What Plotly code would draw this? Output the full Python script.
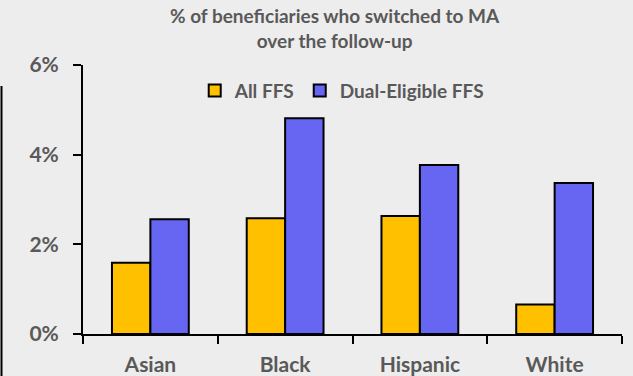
import plotly.graph_objects as go

categories = ["Asian", "Black", "Hispanic", "White"]
all_ffs = [1.59, 2.58, 2.63, 0.66]
dual_ffs = [2.56, 4.81, 3.77, 3.37]
y_ticks = [0, 2, 4, 6]
y_tick_labels = ["0%", "2%", "4%", "6%"]

TXT = "#595959"
FONT = "Lato"
W, H = 633, 376
L, R, T, B = 83, 11, 65, 42

fig = go.Figure()
fig.add_trace(go.Bar(x=categories, y=all_ffs, name="All FFS",
                     marker=dict(color="#FFC000", line=dict(color="black", width=2))))
fig.add_trace(go.Bar(x=categories, y=dual_ffs, name="Dual-Eligible FFS",
                     marker=dict(color="#6666F2", line=dict(color="black", width=2))))

fig.update_layout(
    width=W, height=H,
    margin=dict(l=L, r=R, t=T, b=B, pad=0),
    paper_bgcolor="#EDEDED", plot_bgcolor="#EDEDED",
    barmode="group", bargap=0.43, bargroupgap=0,
    font=dict(family=FONT, color=TXT, size=21),
    showlegend=True,
    legend=dict(orientation="h", x=0.48, xanchor="center", y=0.905, yanchor="middle",
                font=dict(family=FONT, size=19, color=TXT, weight="bold"),
                bgcolor="rgba(0,0,0,0)", itemwidth=30, traceorder="normal"),
    xaxis=dict(type="category", tickson="boundaries", ticks="outside", ticklen=8,
               tickwidth=2, tickcolor="black", showline=True, linecolor="black",
               linewidth=2, showgrid=False, zeroline=False, ticklabelstandoff=11,
               automargin=False,
               tickfont=dict(family=FONT, size=21, color=TXT, weight="bold")),
    yaxis=dict(range=[0, 6], tickvals=y_ticks, ticktext=y_tick_labels,
               ticks="outside", ticklen=8, tickwidth=2, tickcolor="black",
               showline=True, linecolor="black", linewidth=2, showgrid=False,
               zeroline=False, ticklabelstandoff=10, automargin=False,
               tickfont=dict(family=FONT, size=21, color=TXT, weight="bold")),
)

fig.add_annotation(text="% of beneficiaries who switched to MA<br>over the follow-up",
                   xref="paper", yref="paper",
                   x=(335 - L) / (W - L - R), y=1 + (T - 2) / (H - T - B),
                   xanchor="center", yanchor="top", showarrow=False,
                   font=dict(family=FONT, size=19, color=TXT, weight="bold"))

fig.add_shape(type="line", xref="paper", yref="paper",
              x0=(1.5 - L) / (W - L - R), x1=(1.5 - L) / (W - L - R),
              y0=1 - (86 - T) / (H - T - B), y1=-B / (H - T - B) - 0.01,
              line=dict(color="black", width=2))

fig.write_html("out.html")
